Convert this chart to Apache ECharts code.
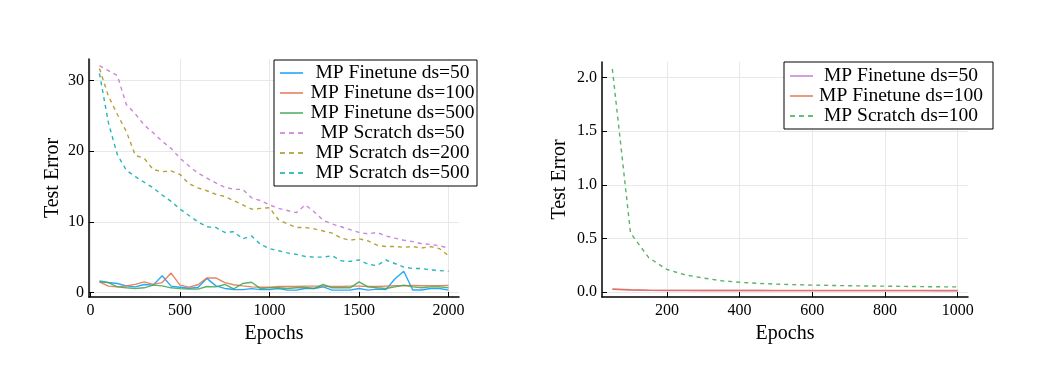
<!DOCTYPE html>
<html><head><meta charset="utf-8">
<script src="https://cdn.jsdelivr.net/npm/echarts@6/dist/echarts.min.js"></script>
<style>html,body{margin:0;padding:0;background:#fff}#c{width:1040px;height:367px}</style>
</head><body><div id="c"></div>
<script>
// ---- Left panel data (epochs 50..2000 every 50) ----
const epochsLeft = [50,100,150,200,250,300,350,400,450,500,550,600,650,700,750,800,850,900,950,1000,
  1050,1100,1150,1200,1250,1300,1350,1400,1450,1500,1550,1600,1650,1700,1750,1800,1850,1900,1950,2000];
const finetune50 = [1.65,1.42,1.27,0.94,0.8,1.13,1.04,2.36,0.9,0.75,0.6,0.7,2.0,0.94,0.57,0.42,0.4,0.55,0.4,0.4,
  0.57,0.33,0.33,0.57,0.57,0.8,0.33,0.33,0.33,0.57,0.33,0.47,0.4,1.9,3.0,0.35,0.35,0.57,0.57,0.33];
const finetune100 = [1.5,0.9,0.8,0.94,1.15,1.5,1.15,1.4,2.75,1.04,0.75,1.1,2.05,2.05,1.4,1.1,0.94,0.8,0.75,0.75,
  0.85,0.85,0.85,0.9,0.9,0.9,0.85,0.85,0.9,0.9,0.85,0.85,0.9,0.95,0.95,1.0,0.95,0.95,0.95,1.0];
const finetune500 = [1.5,1.4,0.8,0.66,0.57,0.66,1.04,0.94,0.66,0.55,0.47,0.47,0.85,0.8,1.13,0.5,1.27,1.45,0.55,0.65,
  0.66,0.57,0.66,0.7,0.57,1.13,0.66,0.66,0.66,1.5,0.8,0.66,0.57,0.8,1.04,0.8,0.66,0.8,0.8,0.66];
const scratch50 = [32.1,31.4,30.7,26.6,25.3,23.7,22.6,21.4,20.4,19.0,17.9,16.9,16.2,15.5,14.9,14.6,14.6,13.4,13.0,12.4,
  11.9,11.6,11.3,12.4,11.4,10.2,9.7,9.3,8.9,8.5,8.3,8.5,8.0,7.7,7.4,7.2,6.9,6.8,6.6,6.3];
const scratch200 = [31.7,27.8,25.2,22.8,19.4,19.0,17.4,17.1,17.2,16.7,15.4,14.8,14.4,13.9,13.6,13.0,12.4,11.8,11.9,12.0,
  10.3,9.7,9.2,9.2,9.0,8.7,8.4,7.7,7.4,7.6,7.3,6.7,6.5,6.5,6.4,6.5,6.3,6.5,6.2,5.2];
const scratch500 = [31.0,24.0,19.5,17.3,16.4,15.6,14.8,13.8,12.9,11.8,10.9,10.0,9.3,9.2,8.5,8.6,7.6,8.0,6.8,6.2,
  5.9,5.6,5.4,5.1,5.0,5.0,5.2,4.5,4.4,4.6,4.0,3.8,4.6,4.1,3.6,3.4,3.4,3.2,3.1,3.0];
const xTicksLeft = [0,500,1000,1500,2000];
const yTicksLeft = [0,10,20,30];

// ---- Right panel data (epochs 50..1000 every 50) ----
const epochsRight = [50,100,150,200,250,300,350,400,450,500,550,600,650,700,750,800,850,900,950,1000];
const rFinetune50 = [0.024,0.018,0.015,0.014,0.014,0.013,0.013,0.013,0.013,0.012,0.012,0.012,0.012,0.012,0.012,0.012,0.012,0.012,0.011,0.011];
const rFinetune100 = [0.027,0.020,0.016,0.015,0.015,0.014,0.014,0.014,0.014,0.014,0.013,0.013,0.013,0.013,0.013,0.013,0.013,0.013,0.013,0.013];
const rScratch100 = [2.08,0.55,0.32,0.21,0.16,0.13,0.105,0.09,0.08,0.073,0.068,0.064,0.061,0.058,0.056,0.054,0.052,0.050,0.048,0.047];
const xTicksRight = [200,400,600,800,1000];
const yTicksRight = [0,0.5,1.0,1.5,2.0];

const FONT = '"Liberation Serif", "Times New Roman", serif';
const C = {blue:'#009AFA', orange:'#E36F47', green:'#3EA44E', purple:'#C371D2', olive:'#AC8E18', cyan:'#00A9AD'};
const SOLID_ICON = 'path://M0,0H24V1H0Z';
const DASH_ICON = 'path://M0,0H5V1H0Z M9,0H14V1H9Z M18,0H23V1H18Z';

function pairs(xs, ys){ return xs.map((x,i)=>[x, ys[i]]); }
function line(name, xs, ys, color, dashed, idx){
  return {
    type:'line', name, xAxisIndex:idx, yAxisIndex:idx, data:pairs(xs,ys),
    symbol:'none', showSymbol:false, animation:false, silent:true,
    lineStyle:{color, width:1.4, type: dashed ? [4,4] : 'solid', opacity:0.85},
    itemStyle:{color}
  };
}
function xAxis(gi, min, max, ticks){
  return {
    type:'value', gridIndex:gi, min, max, name:'Epochs', nameLocation:'middle', nameGap:24,
    nameTextStyle:{fontFamily:FONT, fontSize:20, color:'#000'},
    axisLine:{show:true, onZero:false, lineStyle:{color:'#000', width:1.5}},
    axisTick:{show:true, inside:true, length:5, customValues:ticks, lineStyle:{color:'#000', width:1}},
    axisLabel:{customValues:ticks, fontFamily:FONT, fontSize:16, color:'#000', margin:6, formatter: v => String(v)},
    splitLine:{show:true, lineStyle:{color:'#e8e8e8', width:1}}
  };
}
function yAxis(gi, min, max, ticks, fmt, gap){
  return {
    type:'value', gridIndex:gi, min, max, name:'Test Error', nameLocation:'middle', nameGap:gap,
    nameTextStyle:{fontFamily:FONT, fontSize:20, color:'#000'},
    axisLine:{show:true, onZero:false, lineStyle:{color:'#000', width:1.5}},
    axisTick:{show:true, inside:true, length:5, customValues:ticks, lineStyle:{color:'#000', width:1}},
    axisLabel:{customValues:ticks, fontFamily:FONT, fontSize:16, color:'#000', margin:5, formatter:fmt},
    splitLine:{show:true, lineStyle:{color:'#e8e8e8', width:1}}
  };
}
function legend(items, left, top, textW, padding){
  return {
    orient:'vertical', left, top, itemWidth:23, itemHeight:1.4, itemGap:0, padding,
    symbolKeepAspect:false,
    borderColor:'#000', borderWidth:1, backgroundColor:'#fff', selectedMode:false,
    data: items.map(([name, dashed]) => ({name, icon: dashed ? DASH_ICON : SOLID_ICON})),
    formatter: n => '{t|' + n.trim() + '}',
    textStyle:{rich:{t:{width:textW, align:'center', fontFamily:FONT, fontSize:19.5, lineHeight:21, color:'#000'}}}
  };
}

const chart = echarts.init(document.getElementById('c'), null, {renderer:'canvas'});
chart.setOption({
  backgroundColor:'#fff',
  animation:false,
  grid:[
    {left:89, top:59, width:370, height:238},
    {left:602, top:62, width:366, height:235}
  ],
  xAxis:[ xAxis(0, -8.5, 2058.5, xTicksLeft), xAxis(1, 21.5, 1028.5, xTicksRight) ],
  yAxis:[
    yAxis(0, -0.64, 33.05, yTicksLeft, v => String(v), 26),
    yAxis(1, -0.047, 2.145, yTicksRight, v => v.toFixed(1), 32)
  ],
  legend:[
    legend([['MP Finetune ds=50',false],['MP Finetune ds=100',false],['MP Finetune ds=500',false],
            ['MP Scratch ds=50',true],['MP Scratch ds=200',true],['MP Scratch ds=500',true]], 274, 60, 169, [3,0,3,6]),
    legend([['MP Finetune ds=50 ',false],['MP Finetune ds=100 ',false],['MP Scratch ds=100',true]], 784, 62, 166, [4,9,3,6])
  ],
  series:[
    line('MP Finetune ds=50', epochsLeft, finetune50, C.blue, false, 0),
    line('MP Finetune ds=100', epochsLeft, finetune100, C.orange, false, 0),
    line('MP Finetune ds=500', epochsLeft, finetune500, C.green, false, 0),
    line('MP Scratch ds=50', epochsLeft, scratch50, C.purple, true, 0),
    line('MP Scratch ds=200', epochsLeft, scratch200, C.olive, true, 0),
    line('MP Scratch ds=500', epochsLeft, scratch500, C.cyan, true, 0),
    line('MP Finetune ds=50 ', epochsRight, rFinetune50, C.purple, false, 1),
    line('MP Finetune ds=100 ', epochsRight, rFinetune100, C.orange, false, 1),
    line('MP Scratch ds=100', epochsRight, rScratch100, C.green, true, 1)
  ]
});
</script></body></html>
